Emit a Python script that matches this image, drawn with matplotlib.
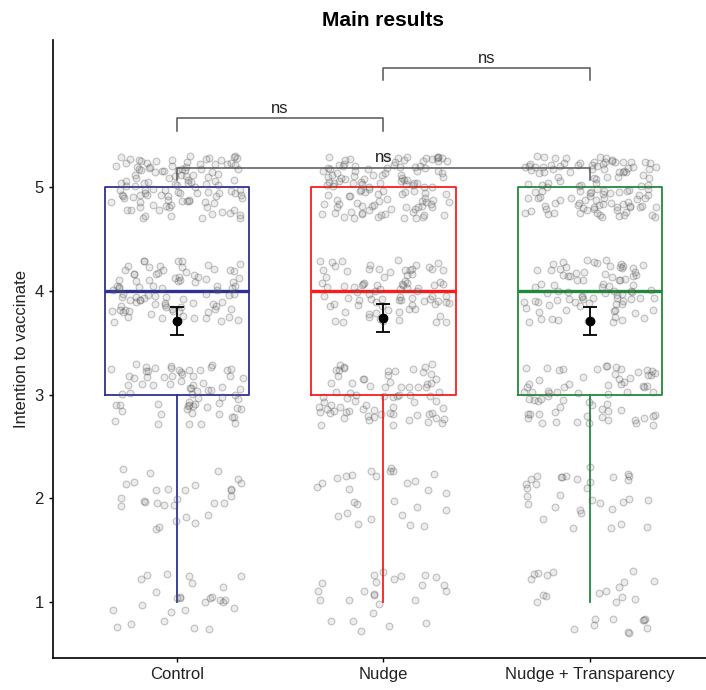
import matplotlib
matplotlib.use("Agg")
import matplotlib.pyplot as plt
import numpy as np

plt.rcParams['font.family'] = ['Liberation Sans', 'DejaVu Sans']

groups = ['Control', 'Nudge', 'Nudge + Transparency']
levels = [1, 2, 3, 4, 5]
# number of answers per level (1..5)
control_counts = [27, 30, 70, 90, 115]
nudge_counts = [25, 28, 75, 85, 120]
transp_counts = [27, 33, 70, 85, 120]
box_colors = ['#2E3192', '#FF1A1A', '#1F8A3C']

# significance brackets: (left group, right group, height, label)
brackets = [(1, 3, 5.19, 'ns'), (1, 2, 5.665, 'ns'), (2, 3, 6.15, 'ns')]

all_counts = [control_counts, nudge_counts, transp_counts]
data = [np.repeat(levels, c) for c in all_counts]

W, H = 706, 690
fig = plt.figure(figsize=(W / 100, H / 100), dpi=100)
ax = fig.add_axes([53 / W, 32 / H, (W - 53) / W, 618 / H])

pos = np.arange(1, 4)


def hash01(i, salt):
    # deterministic scatter offsets in [0, 1)
    v = np.sin(i * 12.9898 + salt * 78.233) * 43758.5453
    return v - np.floor(v)


for k, d in enumerate(data):
    i = np.arange(len(d)) + 1.0
    dx = hash01(i, 3 * k + 1) - 0.5
    dy = hash01(i, 3 * k + 2) - 0.5
    ax.scatter(pos[k] + dx * 0.64, d + dy * 0.6, s=24,
               facecolor=(0.5, 0.5, 0.5, 0.15), edgecolor=(0.3, 0.3, 0.3, 0.32),
               linewidth=0.8, zorder=3)

for k, d in enumerate(data):
    c = box_colors[k]
    ax.boxplot([d], positions=[pos[k]], widths=0.70, showfliers=False,
               showcaps=False, patch_artist=False,
               boxprops=dict(color=c, linewidth=1.3),
               whiskerprops=dict(color=c, linewidth=1.3),
               medianprops=dict(color=c, linewidth=2.4), zorder=2)
    m = d.mean()
    ci = 1.96 * d.std(ddof=1) / np.sqrt(len(d))
    ax.errorbar(pos[k], m, yerr=ci, fmt='o', color='black', markersize=6,
                capsize=5, elinewidth=1.3, capthick=1.3, zorder=5)

for g1, g2, h, lab in brackets:
    ax.plot([g1, g1, g2, g2], [h - 0.12, h, h, h - 0.12], color='#555555',
            linewidth=1.1, zorder=4)
    ax.text((g1 + g2) / 2, h + 0.02, lab, ha='center', va='bottom', fontsize=12,
            color='#222222', zorder=6)

ax.set_xlim(0.4, 0.4 + (W - 53) / 206.5)
ax.set_ylim(0.46, 6.42)
ax.set_xticks(pos)
ax.set_xticklabels(groups, fontsize=12, color='#222222')
ax.set_yticks(levels)
ax.set_yticklabels([str(v) for v in levels], fontsize=12, color='#222222')
ax.set_ylabel('Intention to vaccinate', fontsize=12, color='#222222')
ax.spines['top'].set_visible(False)
ax.spines['right'].set_visible(False)
ax.spines['left'].set_linewidth(1.2)
ax.spines['bottom'].set_linewidth(1.2)
ax.tick_params(length=3, width=1)
fig.text((53 + 713) / 2 / W, 1 - 20 / H, 'Main results', ha='center', va='center',
         fontsize=15, fontweight='bold')

fig.savefig('out.png', dpi=100)
